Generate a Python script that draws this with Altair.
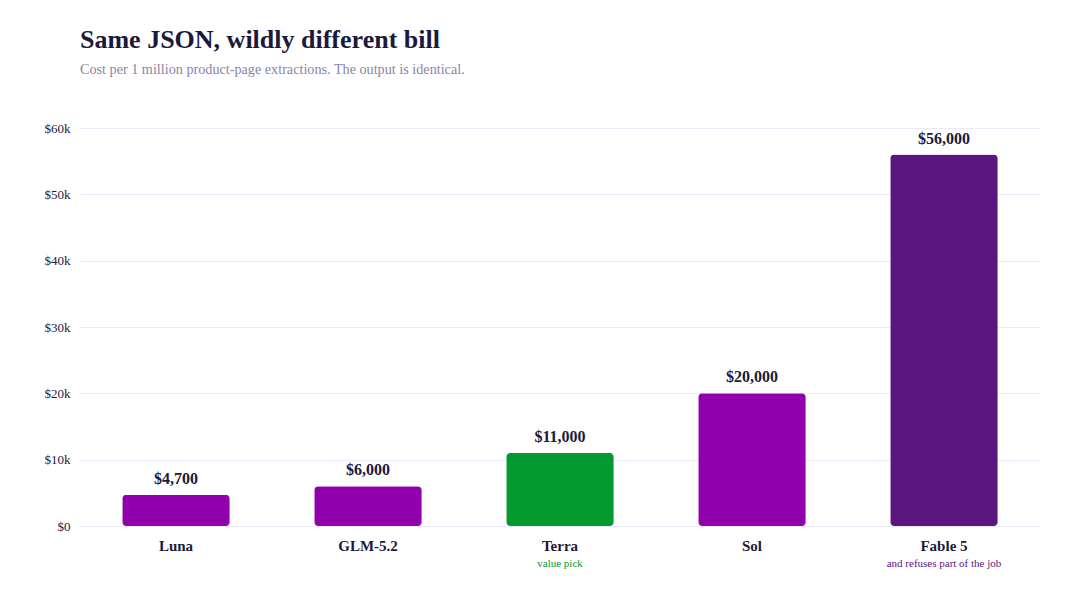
import altair as alt
import pandas as pd

models = ["Luna", "GLM-5.2", "Terra", "Sol", "Fable 5"]
costs = [4700, 6000, 11000, 20000, 56000]
value_labels = ["$4,700", "$6,000", "$11,000", "$20,000", "$56,000"]
bar_colors = ["#9100ad", "#9100ad", "#02992e", "#9100ad", "#5a1580"]
notes = ["", "", "value pick", "", "and refuses part of the job"]

df = pd.DataFrame({
    "model": models,
    "cost": costs,
    "label": value_labels,
    "color": bar_colors,
    "note": notes,
})

FONT = "Liberation Serif"
INK = "#1b1a3d"
W, H = 960, 398

x = alt.X("model:N", sort=models,
          scale=alt.Scale(paddingInner=0.44, paddingOuter=0.22),
          axis=alt.Axis(title=None, labelAngle=0, labelFont=FONT, labelFontSize=15,
                        labelFontWeight="bold", labelColor=INK, labelPadding=12,
                        ticks=False, domain=False, grid=False))
y = alt.Y("cost:Q",
          scale=alt.Scale(domain=[0, 60000]),
          axis=alt.Axis(title=None, values=[0, 10000, 20000, 30000, 40000, 50000, 60000],
                        labelExpr="datum.value == 0 ? '$0' : '$' + (datum.value/1000) + 'k'",
                        labelFont=FONT, labelFontSize=13, labelColor=INK, labelPadding=10,
                        ticks=False, domain=False, gridColor="#ebe8f7", gridWidth=1))

base = alt.Chart(df)

bars = base.mark_bar(cornerRadius=4).encode(
    x=x, y=y, color=alt.Color("color:N", scale=None, legend=None)
)

vals = base.mark_text(font=FONT, fontSize=16, fontWeight="bold", color=INK,
                      baseline="bottom", dy=-8).encode(
    x=alt.X("model:N", sort=models), y="cost:Q", text="label:N"
)

subs = base.mark_text(font=FONT, fontSize=11, baseline="middle").encode(
    x=alt.X("model:N", sort=models), y=alt.value(H + 38), text="note:N",
    color=alt.Color("color:N", scale=None, legend=None)
)

chart = (bars + vals + subs).properties(
    width=W, height=H,
    background="white",
    title=alt.TitleParams(
        "Same JSON, wildly different bill",
        subtitle="Cost per 1 million product-page extractions. The output is identical.",
        anchor="start", frame="group", font=FONT, fontSize=26, fontWeight="bold",
        color=INK, subtitleFont=FONT, subtitleFontSize=14.2, subtitleColor="#8a85a6",
        subtitlePadding=10, offset=45,
    ),
    autosize=alt.AutoSizeParams(type="none"),
    padding={"left": 80, "top": 128, "right": 40, "bottom": 82},
).configure_view(stroke="transparent", strokeWidth=0)

chart.save("out.html", embed_options={"renderer": "svg", "actions": False})
